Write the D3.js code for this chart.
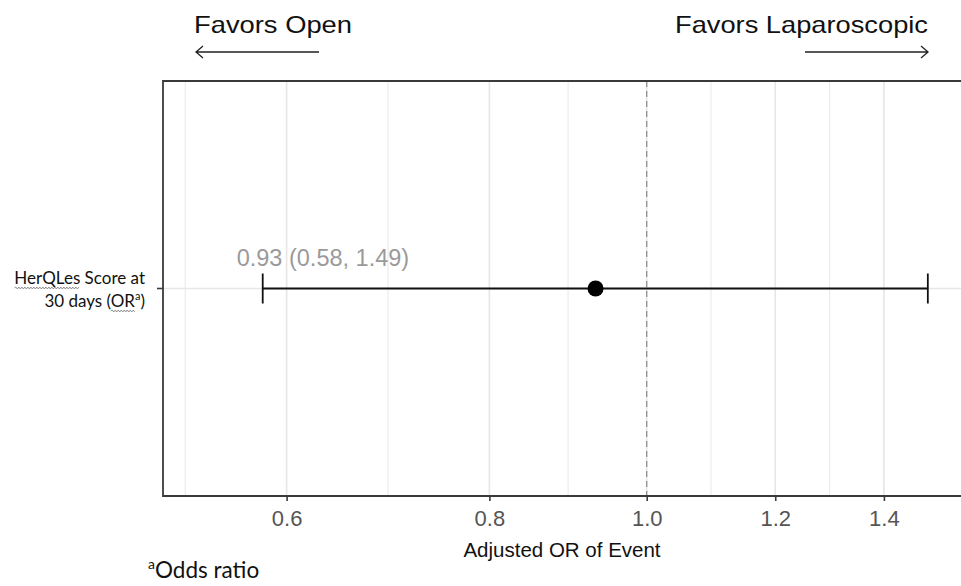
<!DOCTYPE html>
<html>
<head>
<meta charset="utf-8">
<script src="https://cdn.jsdelivr.net/npm/d3@7"></script>
<style>
  html, body { margin: 0; padding: 0; background: #fff; }
  svg { display: block; }
</style>
</head>
<body>
<svg id="chart" width="961" height="586"></svg>
<script>
// Outcome rows, estimates and intervals
const outcomes = ["HerQLes Score at 30 days"];
const oddsRatio = [0.93];
const lowerCI = [0.58];
const upperCI = [1.49];
const estimateLabels = ["0.93 (0.58, 1.49)"];
const xTicks = [0.6, 0.8, 1.0, 1.2, 1.4];
const xTickLabels = ["0.6", "0.8", "1.0", "1.2", "1.4"];
const xLimits = [0.5035, 1.5618];
const referenceLine = [1.0];

const svg = d3.select("#chart");
const panel = { left: 163, right: 961, top: 81, bottom: 496 };

const x = d3.scaleLog().domain(xLimits).range([panel.left, panel.right]);
const y = d3.scaleBand().domain(outcomes).range([panel.top, panel.bottom]);
const yc = d => y(d) + y.bandwidth() / 2;

// minor grid: midpoints between major breaks in log space, plus one step beyond the first
const lt = xTicks.map(Math.log);
const step = lt[1] - lt[0];
const ext = [lt[0] - step, ...lt, lt[lt.length - 1] + step];
const minor = [];
for (let i = 0; i < ext.length - 1; i++) minor.push(Math.exp((ext[i] + ext[i + 1]) / 2));

const g = svg.append("g");

// panel grid
g.selectAll("line.minor").data(minor.filter(v => x(v) > panel.left && x(v) < panel.right))
  .join("line").attr("class", "minor")
  .attr("x1", d => x(d)).attr("x2", d => x(d))
  .attr("y1", panel.top).attr("y2", panel.bottom)
  .attr("stroke", "#ececec").attr("stroke-width", 1.2);
g.selectAll("line.major").data(xTicks)
  .join("line").attr("class", "major")
  .attr("x1", d => x(d)).attr("x2", d => x(d))
  .attr("y1", panel.top).attr("y2", panel.bottom)
  .attr("stroke", "#e6e6e6").attr("stroke-width", 1.6);
g.selectAll("line.hmajor").data(outcomes)
  .join("line").attr("class", "hmajor")
  .attr("x1", panel.left).attr("x2", panel.right)
  .attr("y1", d => yc(d)).attr("y2", d => yc(d))
  .attr("stroke", "#e6e6e6").attr("stroke-width", 1.6);

// reference line at OR = 1
g.selectAll("line.ref").data(referenceLine)
  .join("line").attr("class", "ref")
  .attr("x1", d => x(d)).attr("x2", d => x(d))
  .attr("y1", panel.top).attr("y2", panel.bottom)
  .attr("stroke", "#8a8a8a").attr("stroke-width", 1.2)
  .attr("stroke-dasharray", "6,4");

// panel border (top, left, bottom)
g.append("path")
  .attr("d", `M${panel.right},${panel.top}H${panel.left}V${panel.bottom}H${panel.right}`)
  .attr("fill", "none").attr("stroke", "#3a3a3a").attr("stroke-width", 1.8);

// x axis
const xAxis = d3.axisBottom(x).tickValues(xTicks)
  .tickFormat((d, i) => xTickLabels[i]).tickSize(5).tickPadding(5);
const ax = svg.append("g").attr("transform", `translate(0,${panel.bottom})`).call(xAxis);
ax.select(".domain").remove();
ax.selectAll(".tick line").attr("stroke", "#3a3a3a").attr("stroke-width", 1.6);
ax.selectAll(".tick text")
  .attr("fill", "#555").attr("font-family", "Liberation Sans, Arial, sans-serif")
  .attr("font-size", 22).attr("dy", "0.93em");

svg.append("text")
  .attr("x", (panel.left + panel.right) / 2).attr("y", 557)
  .attr("text-anchor", "middle").attr("fill", "#111")
  .attr("font-family", "Liberation Sans, Arial, sans-serif").attr("font-size", 20.5)
  .text("Adjusted OR of Event");

// y tick
svg.selectAll("line.ytick").data(outcomes).join("line").attr("class", "ytick")
  .attr("x1", panel.left - 6).attr("x2", panel.left)
  .attr("y1", d => yc(d)).attr("y2", d => yc(d))
  .attr("stroke", "#3a3a3a").attr("stroke-width", 1.6);

// error bars with caps
const rows = outcomes.map((o, i) => ({ o, est: oddsRatio[i], lo: lowerCI[i], hi: upperCI[i], lab: estimateLabels[i] }));
const capH = 15;
g.selectAll("line.ci").data(rows).join("line").attr("class", "ci")
  .attr("x1", d => x(d.lo)).attr("x2", d => x(d.hi))
  .attr("y1", d => yc(d.o)).attr("y2", d => yc(d.o))
  .attr("stroke", "#111").attr("stroke-width", 1.8);
g.selectAll("line.capl").data(rows).join("line").attr("class", "capl")
  .attr("x1", d => x(d.lo)).attr("x2", d => x(d.lo))
  .attr("y1", d => yc(d.o) - capH).attr("y2", d => yc(d.o) + capH)
  .attr("stroke", "#111").attr("stroke-width", 1.8);
g.selectAll("line.caph").data(rows).join("line").attr("class", "caph")
  .attr("x1", d => x(d.hi)).attr("x2", d => x(d.hi))
  .attr("y1", d => yc(d.o) - capH).attr("y2", d => yc(d.o) + capH)
  .attr("stroke", "#111").attr("stroke-width", 1.8);
g.selectAll("circle.est").data(rows).join("circle").attr("class", "est")
  .attr("cx", d => x(d.est)).attr("cy", d => yc(d.o)).attr("r", 8)
  .attr("fill", "#000");
g.selectAll("text.est").data(rows).join("text").attr("class", "est")
  .attr("x", d => x(d.lo) - 26).attr("y", d => yc(d.o) - 23)
  .attr("fill", "#9a9a9a").attr("font-family", "Liberation Sans, Arial, sans-serif")
  .attr("font-size", 23.5)
  .text(d => d.lab);

// header with direction arrows
const hdrFont = "Liberation Sans, Arial, sans-serif";
svg.append("text").attr("x", 194).attr("y", 33).attr("font-family", hdrFont)
  .attr("font-size", 24).attr("fill", "#111")
  .attr("textLength", 158).attr("lengthAdjust", "spacingAndGlyphs")
  .text("Favors Open");
svg.append("text").attr("x", 675).attr("y", 33).attr("font-family", hdrFont)
  .attr("font-size", 24).attr("fill", "#111")
  .attr("textLength", 253).attr("lengthAdjust", "spacingAndGlyphs")
  .text("Favors Laparoscopic");
function arrow(x0, x1, yy) {
  const dir = Math.sign(x1 - x0);
  svg.append("path")
    .attr("d", `M${x0},${yy}H${x1}M${x1 - dir * 7},${yy - 6}L${x1},${yy}L${x1 - dir * 7},${yy + 6}`)
    .attr("stroke", "#222").attr("stroke-width", 1.3).attr("fill", "none");
}
arrow(319, 196, 52);
arrow(805, 928, 52);

// row label, right aligned, with superscript marker
const labFont = "Lato, 'Open Sans', sans-serif";
const yl1 = svg.append("text").attr("x", 145).attr("y", 284).attr("text-anchor", "end")
  .attr("font-family", labFont).attr("font-size", 17).attr("fill", "#111")
  .text("HerQLes Score at");
const yl2 = svg.append("text").attr("x", 145).attr("y", 307).attr("text-anchor", "end")
  .attr("font-family", labFont).attr("font-size", 17).attr("fill", "#111");
yl2.append("tspan").text("30 days (");
yl2.append("tspan").text("OR");
yl2.append("tspan").attr("font-size", 11).attr("dy", -7).text("a");
yl2.append("tspan").attr("dy", 7).text(")");

// proofing squiggles under flagged words
function squiggle(x0, x1, yy) {
  let d = `M${x0},${yy}`;
  let up = true;
  for (let xx = x0 + 1.5; xx <= x1; xx += 1.5) { d += `L${xx},${yy + (up ? -1 : 1)}`; up = !up; }
  svg.append("path").attr("d", d).attr("fill", "none").attr("stroke", "#777").attr("stroke-width", 0.8);
}
const n1 = yl1.node();
const s1 = 145 - n1.getComputedTextLength();
squiggle(s1, s1 + n1.getSubStringLength(0, 7), 288);
const n2 = yl2.node();
const s2 = 145 - n2.getComputedTextLength();
const pre = n2.getSubStringLength(0, 9);
const orw = n2.getSubStringLength(9, 2);
squiggle(s2 + pre, s2 + pre + orw, 311);

// footnote
const fn = svg.append("text").attr("x", 148).attr("y", 578)
  .attr("font-family", labFont).attr("font-size", 22.5).attr("fill", "#111");
fn.append("tspan").attr("font-size", 14).attr("dy", -9).text("a");
fn.append("tspan").attr("dy", 9).text("Odds ratio");
</script>
</body>
</html>
